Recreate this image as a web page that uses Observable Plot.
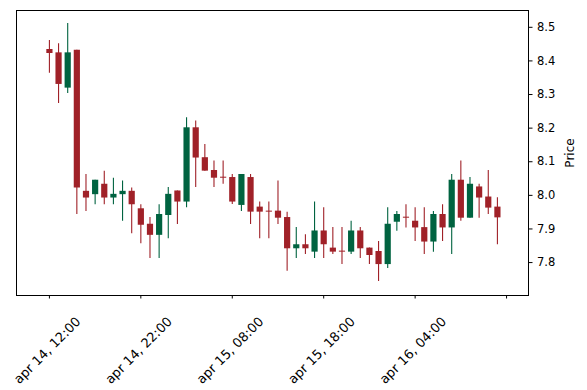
<!DOCTYPE html>
<html>
<head>
<meta charset="utf-8">
<script src="https://cdn.jsdelivr.net/npm/d3@7"></script>
<script src="https://cdn.jsdelivr.net/npm/@observablehq/plot@0.6"></script>
<style>
  html, body { margin: 0; padding: 0; background: #fff; }
  #chart { width: 587px; height: 390px; }
</style>
</head>
<body>
<div id="chart"></div>
<script>
// Hourly candles, apr 14 12:00 -> apr 16 13:00 (index 0..49)
const open  = [8.434, 8.424, 8.319, 8.432, 8.012, 8.002, 8.033, 7.992, 8.002, 8.012,
               7.960, 7.914, 7.881, 7.940, 8.013, 7.980, 8.201, 8.112, 8.074, 8.054,
               8.053, 7.970, 8.053, 7.965, 7.953, 7.953, 7.934, 7.841, 7.853, 7.831,
               7.894, 7.843, 7.834, 7.831, 7.894, 7.843, 7.833, 7.794, 7.920, 7.935,
               7.923, 7.904, 7.861, 7.943, 7.903, 8.045, 7.932, 8.025, 7.995, 7.965];
const high  = [8.461, 8.451, 8.511, 8.432, 8.062, 8.045, 8.072, 8.051, 8.043, 8.022,
               7.972, 7.934, 7.972, 8.023, 8.013, 8.231, 8.221, 8.151, 8.102, 8.102,
               8.062, 8.062, 8.062, 7.980, 7.980, 8.043, 7.950, 7.904, 7.883, 7.980,
               7.963, 7.904, 7.904, 7.923, 7.904, 7.843, 7.863, 7.963, 7.952, 7.972,
               7.963, 7.963, 7.952, 7.972, 8.062, 8.102, 8.053, 8.033, 8.074, 7.993];
const low   = [8.363, 8.273, 8.303, 7.943, 7.952, 7.972, 7.972, 7.972, 7.923, 7.886,
               7.856, 7.812, 7.812, 7.871, 7.913, 7.963, 8.023, 8.072, 8.023, 8.033,
               7.973, 7.952, 7.913, 7.871, 7.871, 7.913, 7.774, 7.812, 7.824, 7.812,
               7.812, 7.824, 7.794, 7.824, 7.812, 7.794, 7.744, 7.782, 7.893, 7.903,
               7.863, 7.824, 7.831, 7.863, 7.824, 7.923, 7.932, 7.932, 7.943, 7.853];
const close = [8.422, 8.330, 8.424, 8.022, 7.992, 8.045, 7.992, 8.003, 8.012, 7.972,
               7.911, 7.881, 7.943, 8.003, 7.980, 8.201, 8.111, 8.072, 8.051, 8.051,
               7.980, 8.062, 7.950, 7.950, 7.950, 7.932, 7.841, 7.853, 7.841, 7.894,
               7.853, 7.831, 7.831, 7.894, 7.841, 7.821, 7.794, 7.914, 7.943, 7.932,
               7.903, 7.861, 7.943, 7.903, 8.045, 7.932, 8.033, 7.992, 7.962, 7.933];

// x-axis ticks (candle index) and their labels
const tickIndex  = [0, 10, 20, 30, 40, 50];
const tickLabels = ["apr 14, 12:00", "apr 14, 22:00", "apr 15, 08:00", "apr 15, 18:00", "apr 16, 04:00", ""];
const yTicks = [7.8, 7.9, 8.0, 8.1, 8.2, 8.3, 8.4, 8.5];

const UP = "#006340", DOWN = "#a02128";

const data = open.map((o, i) => ({
  i, open: o, high: high[i], low: low[i], close: close[i],
  color: close[i] >= o ? UP : DOWN
}));
const ticks = tickIndex.map((t, k) => ({t, label: tickLabels[k]}));

const font = "'DejaVu Sans', sans-serif";

const chart = Plot.plot({
  width: 587,
  height: 390,
  marginLeft: 16,
  marginRight: 59,
  marginTop: 10,
  marginBottom: 95,
  style: {fontFamily: font, fontSize: "11px", color: "#000", background: "#fff"},
  x: {type: "linear", domain: [-3.6, 52.4]},
  y: {domain: [7.702, 8.550]},
  marks: [
    Plot.ruleX(data, {x: "i", y1: "low", y2: "high", stroke: "color", strokeWidth: 1.1}),
    Plot.ruleX(data, {x: "i", y1: "open", y2: "close", stroke: "color", strokeWidth: 6.2, strokeLinecap: "butt"}),
    Plot.frame({stroke: "#000", strokeWidth: 1}),
    Plot.axisY({anchor: "right", ticks: yTicks, tickSize: 3.5, tickPadding: 5, tickFormat: d3.format(".1f"), label: null, fontSize: 11.5}),
    Plot.axisX({anchor: "bottom", ticks: tickIndex, tickSize: 3.5, tickFormat: () => "", label: null}),
    Plot.text(ticks, {x: "t", frameAnchor: "bottom", dx: -2, dy: 55, text: "label", rotate: -45, textAnchor: "middle", lineAnchor: "middle", fontSize: 13, fill: "#000"}),
    Plot.text(["Price"], {frameAnchor: "right", dx: 42, rotate: -90, textAnchor: "middle", lineAnchor: "middle", fontSize: 12, fill: "#000"})
  ]
});
document.getElementById("chart").appendChild(chart);
</script>
</body>
</html>
